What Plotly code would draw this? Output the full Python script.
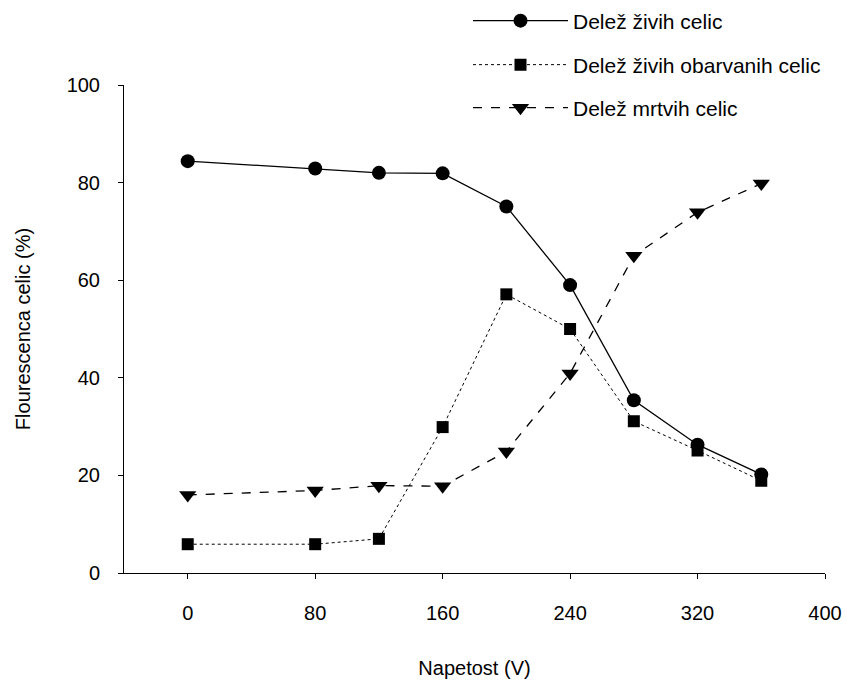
import plotly.graph_objects as go

voltage = [0, 80, 120, 160, 200, 240, 280, 320, 360]
live = [84.4, 82.9, 82.0, 81.9, 75.1, 59.0, 35.4, 26.3, 20.2]
live_stained = [5.9, 5.9, 7.0, 29.9, 57.1, 50.0, 31.1, 25.1, 18.9]
dead = [16.0, 16.9, 17.9, 17.8, 24.9, 40.9, 65.0, 73.9, 79.8]

names = ["Delež živih celic", "Delež živih obarvanih celic", "Delež mrtvih celic"]
x_ticks = [0, 80, 160, 240, 320, 400]
y_ticks = [0, 20, 40, 60, 80, 100]

FONT = "Liberation Sans, Arial, sans-serif"

fig = go.Figure()
fig.add_trace(go.Scatter(x=voltage, y=live, name=names[0], mode="lines+markers",
                         line=dict(color="black", width=1.3, dash="solid"),
                         marker=dict(symbol="circle", size=14, color="black"),
                         legend="legend"))
fig.add_trace(go.Scatter(x=voltage, y=live_stained, name=names[1], mode="lines+markers",
                         line=dict(color="black", width=1, dash="dot"),
                         marker=dict(symbol="square", size=12, color="black"),
                         legend="legend2"))
fig.add_trace(go.Scatter(x=voltage, y=dead, name=names[2], mode="lines+markers",
                         line=dict(color="black", width=1.3, dash="dash"),
                         marker=dict(symbol="triangle-down", size=15, color="black"),
                         legend="legend3"))

leg_common = dict(xref="container", yref="container", xanchor="left", yanchor="middle",
                  bgcolor="rgba(0,0,0,0)", visible=True,
                  font=dict(family=FONT, size=21, color="black"), itemwidth=95)

fig.update_layout(
    width=847, height=680,
    showlegend=True,
    margin=dict(l=124, r=22, t=85, b=107, autoexpand=False),
    paper_bgcolor="white", plot_bgcolor="white",
    font=dict(family=FONT, size=20, color="black"),
    xaxis=dict(range=[-40, 400], tickvals=x_ticks, ticks="outside", ticklen=5,
               tickcolor="black", showline=True, linecolor="black", linewidth=1,
               showgrid=False, zeroline=False, ticklabelstandoff=17,
               title=dict(text="Napetost (V)", font=dict(size=20), standoff=37)),
    yaxis=dict(range=[0, 100], tickvals=y_ticks, ticks="outside", ticklen=5,
               tickcolor="black", showline=True, linecolor="black", linewidth=1,
               showgrid=False, zeroline=False, ticklabelstandoff=14,
               title=dict(text="Flourescenca celic (%)", font=dict(size=20), standoff=30)),
    legend=dict(x=468 / 847, y=1 - 21 / 680, **leg_common),
    legend2=dict(x=468 / 847, y=1 - 65 / 680, **leg_common),
    legend3=dict(x=468 / 847, y=1 - 108 / 680, **leg_common),
)

fig.write_html("out.html")
